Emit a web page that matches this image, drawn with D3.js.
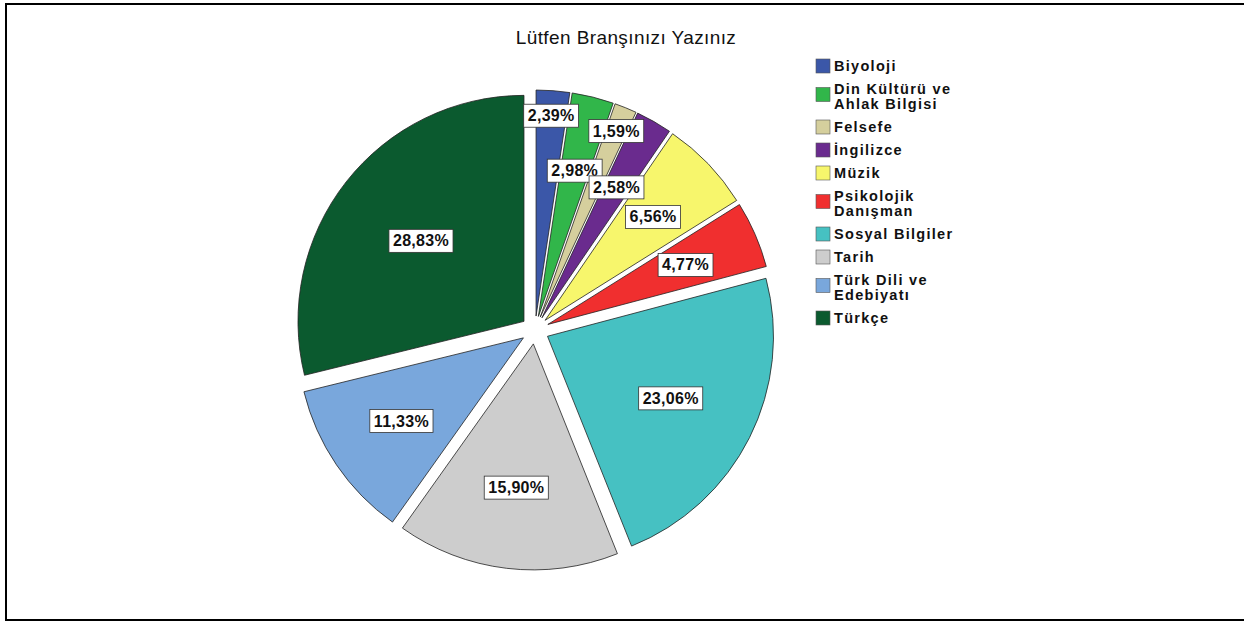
<!DOCTYPE html>
<html lang="tr">
<head>
<meta charset="UTF-8">
<title>Lütfen Branşınızı Yazınız</title>
<script src="https://d3js.org/d3.v7.min.js"></script>
<style>
  html, body { margin: 0; padding: 0; background: #fff; }
  svg { display: block; font-family: "Liberation Sans", Arial, sans-serif; }
</style>
</head>
<body>
<svg id="chart"></svg>
<script>
// Veriler (yüzde)
const categories = ["Biyoloji", "Din Kültürü ve Ahlak Bilgisi", "Felsefe", "İngilizce", "Müzik",
  "Psikolojik Danışman", "Sosyal Bilgiler", "Tarih", "Türk Dili ve Edebiyatı", "Türkçe"];
const percents = [2.39, 2.98, 1.59, 2.58, 6.56, 4.77, 23.06, 15.90, 11.33, 28.83];
const colors = ["#3b57a8", "#31b64a", "#d5cf9d", "#6a2b8e", "#f7f66c",
  "#f02f2f", "#46c1c2", "#cdcdcd", "#79a7dc", "#0b5a2f"];
const title = "Lütfen Branşınızı Yazınız";

const width = 1244, height = 621;
const cx = 535, cy = 330, radius = 226, explode = 14;

const svg = d3.select("#chart").attr("width", width).attr("height", height);

// cadre
svg.append("rect")
  .attr("x", 6).attr("y", 4)
  .attr("width", 1260).attr("height", 616)
  .attr("fill", "none").attr("stroke", "#000").attr("stroke-width", 2);

svg.append("text")
  .attr("x", 626).attr("y", 44)
  .attr("text-anchor", "middle")
  .attr("font-size", 19)
  .attr("letter-spacing", 0.4)
  .attr("fill", "#111")
  .text(title);

const data = categories.map((c, i) => ({ name: c, value: percents[i], color: colors[i] }));

const pie = d3.pie().sort(null).value(d => d.value);
const arc = d3.arc().innerRadius(0).outerRadius(radius);
const arcs = pie(data);

// étiquette au centre de gravité du secteur ; petites tranches alternées vers l'extérieur
let run = 0;
arcs.forEach(a => {
  a.mid = (a.startAngle + a.endAngle) / 2;
  const half = (a.endAngle - a.startAngle) / 2;
  const centroidR = (2 / 3) * Math.sin(half) / half;
  if (a.data.value < 3) {
    a.labelR = run % 2 === 0 ? 0.89 : centroidR;
    run++;
  } else {
    a.labelR = centroidR;
    run = 0;
  }
  a.dx = explode * Math.sin(a.mid);
  a.dy = -explode * Math.cos(a.mid);
});

const g = svg.append("g").attr("transform", `translate(${cx},${cy})`);

g.selectAll(".slice")
  .data(arcs)
  .enter().append("path")
  .attr("class", "slice")
  .attr("transform", d => `translate(${d.dx},${d.dy})`)
  .attr("d", arc)
  .attr("fill", d => d.data.color)
  .attr("stroke", "#222")
  .attr("stroke-width", 0.8);

const labels = g.selectAll(".lbl")
  .data(arcs)
  .enter().append("g")
  .attr("class", "lbl")
  .attr("transform", d => {
    const r = radius * d.labelR;
    return `translate(${d.dx + r * Math.sin(d.mid)},${d.dy - r * Math.cos(d.mid)})`;
  });

labels.append("text")
  .attr("text-anchor", "middle")
  .attr("dy", "0.36em")
  .attr("font-size", 16)
  .attr("font-weight", "bold")
  .attr("letter-spacing", 0.3)
  .attr("fill", "#111")
  .text(d => d.data.value.toFixed(2).replace(".", ",") + "%");

labels.each(function () {
  const grp = d3.select(this);
  const bb = grp.select("text").node().getBBox();
  grp.insert("rect", "text")
    .attr("x", bb.x - 4).attr("y", bb.y - 3)
    .attr("width", bb.width + 8).attr("height", bb.height + 6)
    .attr("fill", "#fff").attr("stroke", "#333").attr("stroke-width", 0.8);
});

// légende
const legend = svg.append("g").attr("transform", "translate(816,0)");
const lineH = 15;
let y = 66;
data.forEach(d => {
  const words = d.name.split(" ");
  const lines = [];
  let line = "";
  words.forEach(w => {
    if ((line + " " + w).trim().length <= 15) line = (line + " " + w).trim();
    else { lines.push(line); line = w; }
  });
  lines.push(line);

  const mid = y + (lines.length - 1) * lineH / 2 - (lines.length > 1 ? 2 : 0);
  legend.append("rect")
    .attr("x", 0).attr("y", mid - 7)
    .attr("width", 14).attr("height", 14)
    .attr("fill", d.color).attr("stroke", "#555").attr("stroke-width", 0.6);

  lines.forEach((l, i) => {
    legend.append("text")
      .attr("x", 18).attr("y", y + i * lineH)
      .attr("dy", "0.36em")
      .attr("font-size", 14.5)
      .attr("font-weight", "bold")
      .attr("letter-spacing", 1.3)
      .attr("fill", "#111")
      .text(l);
  });

  y += 23 + (lines.length - 1) * lineH;
});
</script>
</body>
</html>
